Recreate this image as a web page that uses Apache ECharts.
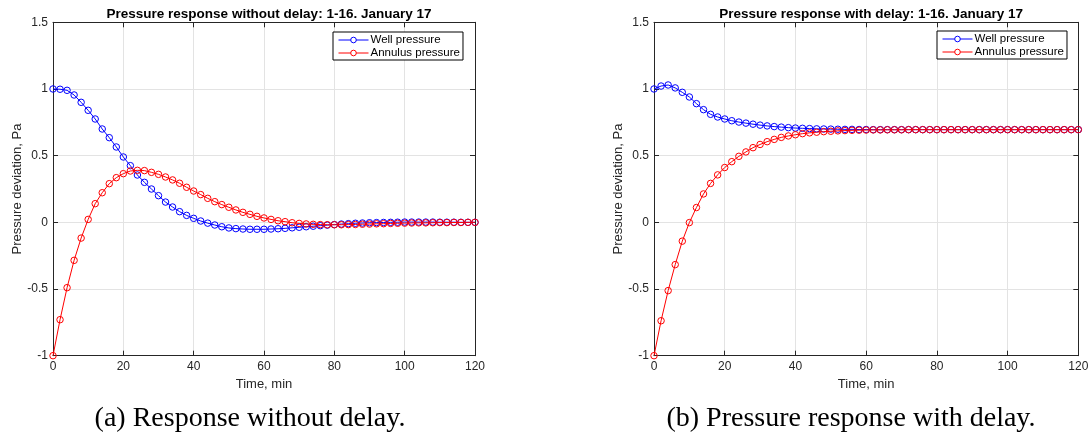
<!DOCTYPE html>
<html>
<head>
<meta charset="utf-8">
<script src="https://cdn.jsdelivr.net/npm/echarts@6/dist/echarts.min.js"></script>
<style>
  html, body { margin: 0; padding: 0; background: #fff; }
  #chart { width: 1092px; height: 441px; }
</style>
</head>
<body>
<div id="chart"></div>
<script>
// Sample times, minutes (every 2 min)
const timeMin = [0,2,4,6,8,10,12,14,16,18,20,22,24,26,28,30,32,34,36,38,40,
  42,44,46,48,50,52,54,56,58,60,62,64,66,68,70,72,74,76,78,80,
  82,84,86,88,90,92,94,96,98,100,102,104,106,108,110,112,114,116,118,120];

// Response without delay
const wellNoDelay = [1.0,0.998,0.99,0.955,0.90,0.84,0.775,0.70,0.635,0.565,0.49,
  0.425,0.355,0.30,0.25,0.20,0.152,0.115,0.08,0.052,0.03,
  0.01,-0.006,-0.02,-0.033,-0.042,-0.047,-0.05,-0.052,-0.052,-0.052,
  -0.05,-0.048,-0.045,-0.041,-0.037,-0.033,-0.029,-0.025,-0.021,-0.017,
  -0.013,-0.01,-0.007,-0.005,-0.003,-0.002,-0.001,0.0,0.001,0.002,
  0.002,0.002,0.002,0.002,0.001,0.001,0.001,0.0,0.0,0.0];
const annulusNoDelay = [-1.0,-0.73,-0.49,-0.285,-0.118,0.022,0.14,0.222,0.29,0.335,0.365,
  0.385,0.39,0.388,0.375,0.36,0.34,0.318,0.293,0.263,0.235,
  0.208,0.18,0.155,0.133,0.113,0.093,0.075,0.06,0.045,0.033,
  0.022,0.012,0.005,-0.003,-0.008,-0.012,-0.015,-0.017,-0.018,-0.018,
  -0.018,-0.017,-0.016,-0.014,-0.013,-0.011,-0.01,-0.008,-0.007,-0.006,
  -0.005,-0.004,-0.004,-0.003,-0.002,-0.002,-0.001,-0.001,0.0,0.0];

// Response with delay
const wellDelay = [1.0,1.022,1.03,1.008,0.975,0.94,0.89,0.845,0.81,0.79,0.775,
  0.762,0.752,0.744,0.736,0.729,0.723,0.718,0.714,0.71,0.707,
  0.705,0.703,0.701,0.70,0.699,0.698,0.697,0.697,0.696,0.696,
  0.695,0.695,0.695,0.695,0.695,0.695,0.695,0.695,0.695,0.695,
  0.695,0.695,0.695,0.695,0.695,0.695,0.695,0.695,0.695,0.695,
  0.695,0.695,0.695,0.695,0.695,0.695,0.695,0.695,0.695,0.695];
const annulusDelay = [-1.0,-0.738,-0.512,-0.317,-0.141,-0.002,0.111,0.213,0.292,0.356,0.411,
  0.455,0.495,0.528,0.56,0.584,0.605,0.622,0.637,0.648,0.657,
  0.665,0.671,0.676,0.68,0.683,0.686,0.688,0.69,0.691,0.692,
  0.693,0.693,0.694,0.694,0.694,0.695,0.695,0.695,0.695,0.695,
  0.695,0.695,0.695,0.695,0.695,0.695,0.695,0.695,0.695,0.695,
  0.695,0.695,0.695,0.695,0.695,0.695,0.695,0.695,0.695,0.695];

const titles = ['Pressure response without delay: 1-16. January 17',
                'Pressure response with delay: 1-16. January 17'];
const captions = ['(a) Response without delay.', '(b) Pressure response with delay.'];
const seriesNames = ['Well pressure', 'Annulus pressure'];
const xLabel = 'Time, min';
const yLabel = 'Pressure deviation, Pa';

const FONT = '"Liberation Sans", Arial, Helvetica, sans-serif';
const INK = '#262626';
const grids = [
  { left: 53, top: 22.3, width: 422, height: 333.4 },
  { left: 654, top: 22.3, width: 424.3, height: 333.4 }
];
const legendPos = [{ left: 333, top: 32 }, { left: 937, top: 31 }];
const captionX = [250, 851];
const colors = ['#0000ff', '#ff0000'];
const pairs = (vals) => timeMin.map((t, i) => [t, vals[i]]);

const axisLine = { show: true, onZero: false, lineStyle: { color: INK, width: 1 } };
const tickIn = { show: true, inside: true, length: 5, lineStyle: { color: INK } };
const gridLine = { show: true, lineStyle: { color: '#e3e3e3', width: 1 } };

const xAxes = [], yAxes = [], series = [], legends = [], titleArr = [], gridArr = [];
grids.forEach((g, k) => {
  gridArr.push(Object.assign({ containLabel: false }, g));
  titleArr.push({
    text: titles[k], left: g.left + g.width / 2, top: 2, textAlign: 'center',
    textStyle: { fontFamily: FONT, fontSize: 13.5, fontWeight: 'bold', color: '#000' }
  });
  // bottom and top x axes, left and right y axes form the closed box
  xAxes.push({
    type: 'value', gridIndex: k, min: 0, max: 120, interval: 20, position: 'bottom',
    name: xLabel, nameLocation: 'middle', nameGap: 20,
    nameTextStyle: { fontFamily: FONT, fontSize: 13, color: INK },
    axisLine, axisTick: tickIn,
    axisLabel: { fontFamily: FONT, fontSize: 12, color: INK, margin: 5 },
    splitLine: gridLine
  });
  xAxes.push({
    type: 'value', gridIndex: k, min: 0, max: 120, interval: 20, position: 'top',
    axisLine, axisTick: tickIn, axisLabel: { show: false }, splitLine: { show: false }
  });
  yAxes.push({
    type: 'value', gridIndex: k, min: -1, max: 1.5, interval: 0.5, position: 'left',
    name: yLabel, nameLocation: 'middle', nameGap: 28,
    nameTextStyle: { fontFamily: FONT, fontSize: 13, color: INK },
    axisLine, axisTick: tickIn,
    axisLabel: { fontFamily: FONT, fontSize: 12, color: INK, margin: 5 },
    splitLine: gridLine
  });
  yAxes.push({
    type: 'value', gridIndex: k, min: -1, max: 1.5, interval: 0.5, position: 'right',
    axisLine, axisTick: tickIn, axisLabel: { show: false }, splitLine: { show: false }
  });
  const data = k === 0 ? [wellNoDelay, annulusNoDelay] : [wellDelay, annulusDelay];
  data.forEach((vals, s) => {
    series.push({
      type: 'line', name: seriesNames[s], id: 'g' + k + 's' + s,
      xAxisIndex: 2 * k, yAxisIndex: 2 * k,
      data: pairs(vals), clip: false, animation: false,
      symbol: 'circle', symbolSize: 6.5, showSymbol: true,
      lineStyle: { color: colors[s], width: 1 },
      itemStyle: { color: 'rgba(255,255,255,0)', borderColor: colors[s], borderWidth: 1 },
      emphasis: { disabled: true },
      z: 2 + s
    });
  });
  legends.push({
    data: seriesNames.map((n, s) => ({
      name: n,
      itemStyle: { color: '#fff', borderColor: colors[s], borderWidth: 1 },
      lineStyle: { color: colors[s], width: 1 }
    })),
    orient: 'vertical', left: legendPos[k].left, top: legendPos[k].top,
    itemWidth: 30, itemHeight: 7, itemGap: 1, padding: [2, 3, 1, 5],
    borderColor: '#000', borderWidth: 1, backgroundColor: '#fff',
    textStyle: { fontFamily: FONT, fontSize: 11.5, color: '#000', padding: [0, 0, 0, -3] },
    selectedMode: false
  });
});

const chart = echarts.init(document.getElementById('chart'), null, { renderer: 'canvas' });
chart.setOption({
  backgroundColor: '#fff',
  animation: false,
  title: titleArr,
  grid: gridArr,
  xAxis: xAxes,
  yAxis: yAxes,
  legend: legends,
  series: series,
  graphic: captions.map((c, k) => ({
    type: 'text',
    x: captionX[k], y: 419,
    style: {
      text: c, fill: '#000', fontFamily: '"Liberation Serif", "Times New Roman", serif',
      fontSize: 28, align: 'center', verticalAlign: 'middle'
    }
  }))
});
</script>
</body>
</html>
